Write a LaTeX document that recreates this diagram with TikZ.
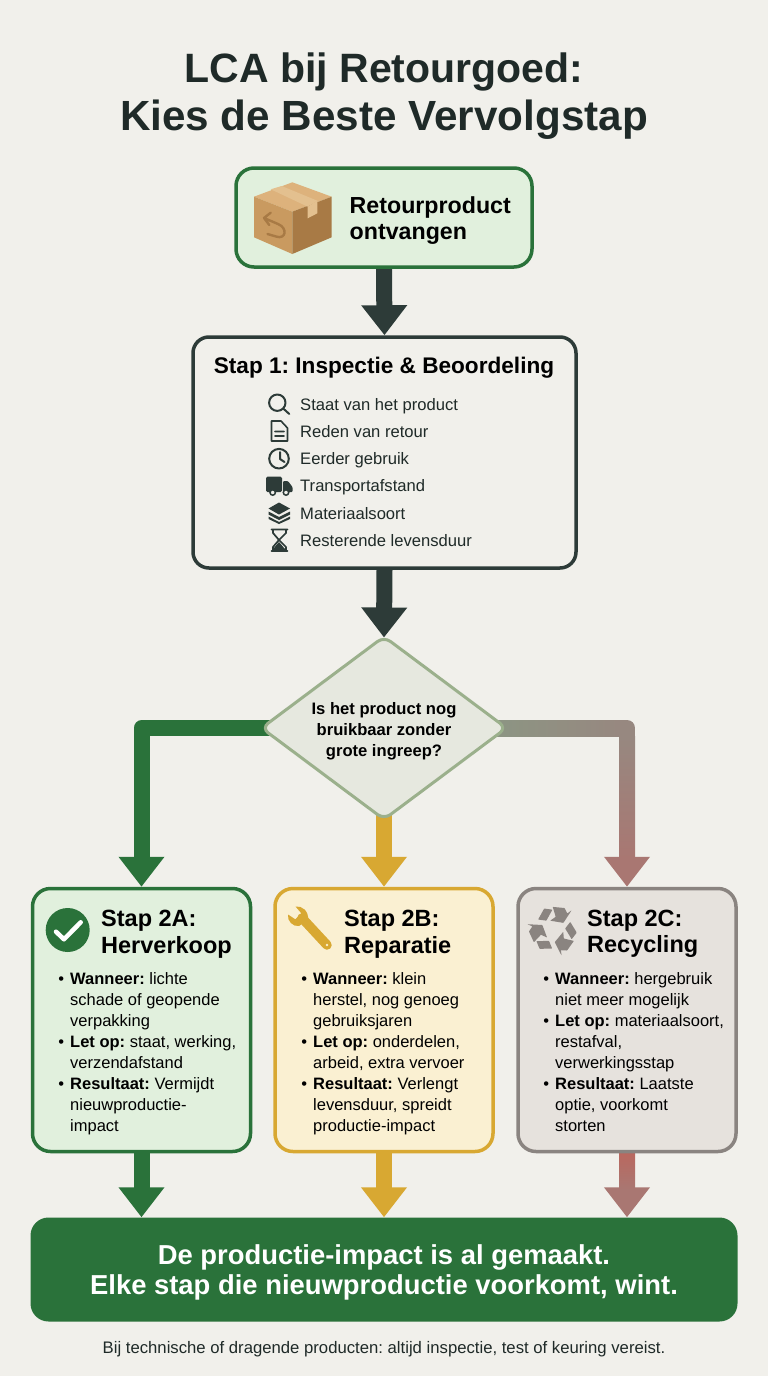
\documentclass[tikz,border=0pt]{standalone}
\usepackage{fontspec}
\setmainfont{Liberation Sans}
\usetikzlibrary{arrows.meta,positioning,shapes.geometric,calc,backgrounds}
\definecolor{pagebg}{HTML}{F1F0EB}
\definecolor{inkdark}{HTML}{1F2A28}
\definecolor{slate}{HTML}{2D3B38}
\definecolor{lcagreen}{HTML}{2A723A}
\definecolor{lcamint}{HTML}{E1F0DD}
\definecolor{lcagold}{HTML}{D8A832}
\definecolor{lcacream}{HTML}{FAF0D2}
\definecolor{lcagrey}{HTML}{8A8480}
\definecolor{lcastone}{HTML}{E6E2DD}
\definecolor{lcarose}{HTML}{A97772}
\definecolor{lcabrick}{HTML}{B9685F}
\definecolor{lcataupe}{HTML}{978880}
\definecolor{lcasage}{HTML}{9BB08C}
\definecolor{lcamoss}{HTML}{8C9583}
\definecolor{lcapale}{HTML}{E6E8DF}
\definecolor{boxtop}{HTML}{DDB27C}
\definecolor{boxleft}{HTML}{C99A60}
\definecolor{boxright}{HTML}{A87A45}
\definecolor{boxtape}{HTML}{E3C08F}

\begin{document}
\frenchspacing
\begin{tikzpicture}[
    x=1pt, y=-1pt,
    box/.style={rectangle, line width=3.5pt, rounded corners=18pt, inner sep=0pt},
    card/.style={box, minimum width=218pt, minimum height=263pt},
    cardtitle/.style={anchor=west, align=left, inner sep=0pt, text=black,
                      font=\fontsize{23.5}{26.5}\selectfont\bfseries},
    cardtext/.style={anchor=north west, align=left, inner sep=0pt, text=black,
                     font=\fontsize{16.5}{21}\selectfont},
    rowtext/.style={anchor=base west, inner sep=0pt, text=inkdark,
                    font=\fontsize{16.6}{20}\selectfont},
    fat/.style={line width=16pt, line join=round,
                -{Triangle[length=30pt,width=44pt]}},
    fatrose/.style={line width=16pt, line join=round, lcataupe,
                -{Triangle[length=30pt,width=44pt,color=lcarose]}},
    icon/.style={slate, line width=2pt, line cap=round, line join=round}
]
\useasboundingbox (0,0) rectangle (768,1376);

% title
\node[align=center, inner sep=0pt, text=inkdark, font=\fontsize{42.2}{48}\selectfont\bfseries]
    (title) at (384,96) {\fontsize{41}{48}\selectfont LCA bij Retourgoed:\\Kies de Beste Vervolgstap};

% flow boxes
\node[box, draw=lcagreen, fill=lcamint, minimum width=296pt, minimum height=99pt] (retour) at (384,217.5) {};
\node[anchor=west, align=left, inner sep=0pt, font=\fontsize{23.2}{26}\selectfont\bfseries] (retourtxt) at (349.5,220.5) {Retourproduct\\ontvangen};

\node[box, draw=slate, fill=pagebg, rounded corners=16pt, minimum width=383pt, minimum height=231pt] (stap1) at (384.5,452.5) {};
\node[inner sep=0pt, font=\fontsize{22.6}{26}\selectfont\bfseries] (stap1txt) at (384,368) {Stap 1: Inspectie \& Beoordeling};
\node[rowtext] (r1) at (300,410) {Staat van het product};
\node[rowtext] (r2) at (300,437.5) {Reden van retour};
\node[rowtext] (r3) at (300,464.5) {Eerder gebruik};
\node[rowtext] (r4) at (300,491.7) {Transportafstand};
\node[rowtext] (r5) at (300,519) {Materiaalsoort};
\node[rowtext] (r6) at (300,546) {Resterende levensduur};

\node[diamond, draw=lcasage, fill=lcapale, line width=3pt, rounded corners=8pt, inner sep=0pt,
      shape aspect=1.34, minimum width=246pt, minimum height=184pt, align=center,
      font=\fontsize{16.6}{21}\selectfont\bfseries] (keuze) at (384,728)
      {\rule{0pt}{18pt}Is het product nog\\bruikbaar zonder\\grote ingreep?};

% the three cards
\node[card, draw=lcagreen, fill=lcamint] (cardA) at (141.5,1020) {};
\node[card, draw=lcagold, fill=lcacream] (cardB) at (384,1020) {};
\node[card, draw=lcagrey, fill=lcastone] (cardC) at (627,1020) {};

\node[cardtitle] (titleA) at (101,934) {Stap 2A:\\Herverkoop};
\node[cardtitle] (titleB) at (344,934) {Stap 2B:\\Reparatie};
\node[cardtitle] (titleC) at (587,934) {Stap 2C:\\Recycling};

\node[cardtext] (textA) at (70,972) {\llap{\textbullet\hspace{6pt}}\textbf{Wanneer:} lichte\\schade of geopende\\verpakking\\
    \llap{\textbullet\hspace{6pt}}\textbf{Let op:} staat, werking,\\verzendafstand\\
    \llap{\textbullet\hspace{6pt}}\textbf{Resultaat:} Vermijdt\\nieuwproductie-\\impact};
\node[cardtext] (textB) at (313,972) {\llap{\textbullet\hspace{6pt}}\textbf{Wanneer:} klein\\herstel, nog genoeg\\gebruiksjaren\\
    \llap{\textbullet\hspace{6pt}}\textbf{Let op:} onderdelen,\\arbeid, extra vervoer\\
    \llap{\textbullet\hspace{6pt}}\textbf{Resultaat:} Verlengt\\levensduur, spreidt\\productie-impact};
\node[cardtext] (textC) at (555,972) {\llap{\textbullet\hspace{6pt}}\textbf{Wanneer:} hergebruik\\niet meer mogelijk\\
    \llap{\textbullet\hspace{6pt}}\textbf{Let op:} materiaalsoort,\\restafval,\\verwerkingsstap\\
    \llap{\textbullet\hspace{6pt}}\textbf{Resultaat:} Laatste\\optie, voorkomt\\storten};

% banner and footnote
\node[rectangle, fill=lcagreen, rounded corners=18pt, minimum width=707pt, minimum height=104pt,
      align=center, text=white, inner sep=0pt, font=\fontsize{27.4}{30}\selectfont\bfseries] (banner) at (384,1269.5)
      {\rule{0pt}{26pt}De productie-impact is al gemaakt.\\Elke stap die nieuwproductie voorkomt, wint.};
\node[inner sep=0pt, text=inkdark, font=\fontsize{16.7}{20}\selectfont] (voetnoot) at (384,1349.5)
      {Bij technische of dragende producten: altijd inspectie, test of keuring vereist.};

% connectors, under the boxes
\begin{scope}[on background layer]
\fill[pagebg] (0,0) rectangle (768,1376);
\draw[fat, slate] (retour.south) -- (stap1.north);
\draw[fat, slate, shorten >=-3pt] (stap1.south) -- (keuze.north);
\draw[fat, lcagreen] (keuze.center) -| (cardA.north);
\draw[fat, lcagold] (keuze.center) -- (cardB.north);
\draw[fatrose] (keuze.center) -| (cardC.north);
\shade[left color=lcamoss, right color=lcataupe]
    ($(keuze.east)+(-14,-8)$) rectangle ($(keuze.east -| cardC.north)+(-8,8)$);
\shade[top color=lcataupe, bottom color=lcarose]
    ($(keuze.east -| cardC.north)+(-8,8)$) rectangle ($(cardC.north)+(8,-28)$);
\draw[fat, lcagreen] (cardA.south) -- (cardA.south |- banner.north);
\draw[fat, lcagold] (cardB.south) -- (cardB.south |- banner.north);
\draw[fat, lcarose] (cardC.south) -- (cardC.south |- banner.north);
\shade[top color=lcabrick, bottom color=lcarose]
    ($(cardC.south)+(-8,0)$) rectangle ($(cardC.south |- banner.north)+(8,-28)$);
\end{scope}

% package icon
\fill[boxtop] (292.3,182.3) -- (331.7,196.7) -- (292.3,211.7) -- (254,196.7) -- cycle;
\fill[boxleft] (254,196.7) -- (292.3,211.7) -- (292.3,254) -- (254,237.3) -- cycle;
\fill[boxright] (292.3,211.7) -- (331.7,196.7) -- (331.7,237.3) -- (292.3,254) -- cycle;
\fill[boxtape] (270.7,189.3) -- (281.7,186) -- (317.3,200.7) -- (307.7,206.7) -- cycle;
\fill[boxtape] (307.7,206.7) -- (317.3,200.7) -- (317.3,213.3) -- (307.7,218.3) -- cycle;
\draw[boxright, line width=2.4pt, line cap=round, line join=round]
    (270.7,212.7) -- (264,218) -- (269.3,225)
    (264,218) -- (278,224) .. controls (288,228) and (286,240) .. (276,236.5) -- (267.5,234);

% row icons
\draw[icon] (277.3,402.7) circle (8.2) (283.2,408.5) -- (289.3,414);
\draw[icon, line width=1.6pt] (271.5,423) -- (271.5,441) -- (287.5,441) -- (287.5,428) -- (281,421) -- (271.5,421) -- cycle
    (275,431.5) -- (284,431.5) (275,436) -- (284,436);
\draw[icon] (279,458.7) circle (9.8) (280,452) -- (280,459) -- (284.5,462);
\fill[slate, rounded corners=1.5pt] (266,476.5) rectangle (282,492);
\fill[slate, rounded corners=1pt] (283,481) -- (288,481) -- (292.5,487) -- (292.5,492) -- (283,492) -- cycle;
\draw[slate, fill=pagebg, line width=1.5pt] (272.7,492.5) circle (2.7) (286,492.5) circle (2.7);
\fill[slate] (279,502.5) -- (290,508.5) -- (279,514.5) -- (268.5,508.5) -- cycle;
\fill[slate] (268.5,511.5) -- (279,517) -- (290,511.5) -- (290,514.5) -- (279,520) -- (268.5,514.5) -- cycle;
\fill[slate] (268.5,516.5) -- (279,522) -- (290,516.5) -- (290,519) -- (279,524) -- (268.5,519) -- cycle;
\draw[icon, line width=1.7pt] (271.5,529.5) -- (287.5,529.5) (271.5,551) -- (287.5,551)
    (273,530) -- (273,533) -- (279,540) -- (273,547) -- (273,551)
    (286,530) -- (286,533) -- (279,540) -- (286,547) -- (286,551);
\fill[slate] (279,542) -- (285,549) -- (285,551) -- (273,551) -- (273,549) -- cycle;

% card icons
\fill[lcagreen] (67.7,930) circle (22);
\draw[white, line width=4.5pt, line cap=round, line join=round] (56,931.7) -- (64,939.3) -- (80.7,922.3);
\draw[lcagold, line width=9.5pt, line cap=round] (302,918) -- (327,945);
\fill[lcagold] (295.5,906.5) .. controls (302,905.5) and (309,911) .. (308,920) -- (299,926)
    .. controls (293,927) and (287,921) .. (288,914.5) -- (295.3,919.3) -- (301.3,913.3) -- cycle;
\fill[lcacream] (327,945) circle (1.4);
\begin{scope}[shift={(553.5,930)}, scale=1.1]
\foreach \a in {0,120,240}{
  \fill[lcagrey, rotate=\a, rounded corners=.5pt] (-14,-9.5) -- (-8.5,-19.5) -- (-1,-18.5) -- (-6.5,-8.5) -- cycle;
  \fill[lcagrey, rotate=\a, rounded corners=.5pt] (-0.7,-21) -- (10,-20) -- (12.5,-15) -- (16.5,-18) -- (9,-6.5)
       -- (-3,-8.5) -- (2,-12) -- cycle;
}
\end{scope}
\end{tikzpicture}
\end{document}
